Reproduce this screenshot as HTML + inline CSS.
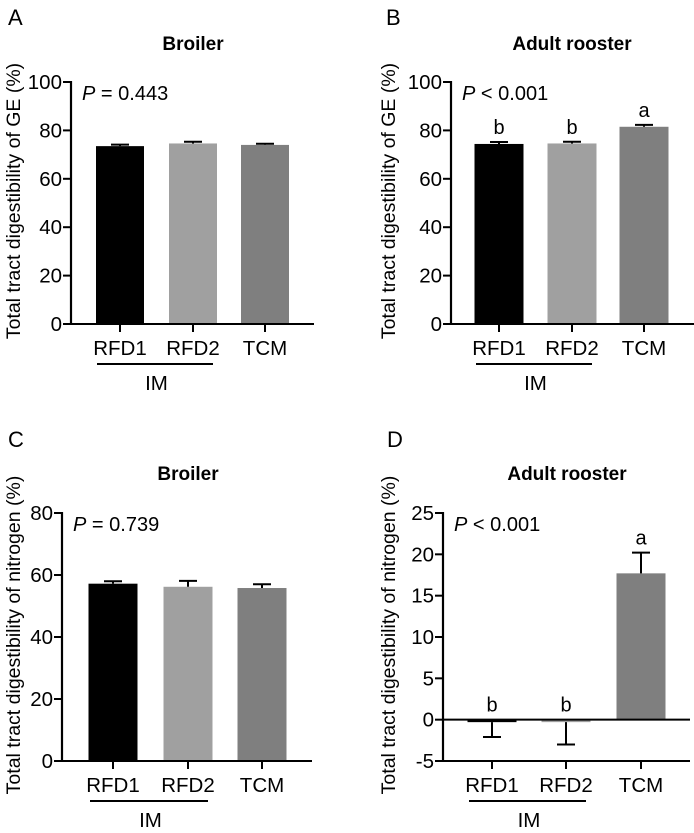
<!DOCTYPE html>
<html><head><meta charset="utf-8"><style>
body{margin:0;background:#fff;}
svg text{font-family:"Liberation Sans",Arial,sans-serif;fill:#000;}
</style></head><body>
<svg id="fig" width="694" height="828" viewBox="0 0 694 828"></svg>
<script>
const categories=["RFD1","RFD2","TCM"];
const colors=["#000000","#a0a0a0","#7f7f7f"];
const valuesA=[73.5,74.6,74.0];
const errorsA=[0.6,0.7,0.5];
const valuesB=[74.4,74.6,81.5];
const errorsB=[0.8,0.7,0.8];
const lettersB=["b","b","a"];
const valuesC=[57.2,56.2,55.8];
const errorsC=[0.8,1.9,1.2];
const valuesD=[-0.3,-0.3,17.7];
const errorsD=[1.8,2.7,2.5];
const lettersD=["b","b","a"];
const ticksGE=[0,20,40,60,80,100];
const ticksNc=[0,20,40,60,80];
const ticksNd=[-5,0,5,10,15,20,25];

const NS="http://www.w3.org/2000/svg";
const svg=document.getElementById('fig');
function mk(tag,attrs,parent,text){const e=document.createElementNS(NS,tag);for(const k in attrs)e.setAttribute(k,attrs[k]);if(text!==undefined)e.textContent=text;(parent||svg).appendChild(e);return e;}

function panel(cfg){
  const g=mk('g',{});
  
  
  const ymin=cfg.ticks[0],ymax=cfg.ticks[cfg.ticks.length-1];
  const y=v=>cfg.yb+(v-ymin)/(ymax-ymin)*(cfg.yt-cfg.yb);
  const pl=mk('text',{x:cfg.lx,y:cfg.ly,'font-size':22},g,cfg.letter);
  
  const t=mk('text',{x:cfg.tx,y:cfg.ty,'font-size':19,'font-weight':'bold','text-anchor':'middle'},g,cfg.title);
  
  const yt=mk('text',{transform:`translate(${cfg.ytx},${(cfg.yt+cfg.yb)/2-2}) rotate(-90)`,'font-size':19.5,'text-anchor':'middle'},g,cfg.ytitle);
  
  cfg.values.forEach((v,i)=>{
    const cx=cfg.cx[i],w=cfg.bw;
    const top=Math.min(y(v),y(0)),h=Math.abs(y(v)-y(0));
    const b=mk('rect',{x:cx-w/2,y:top,width:w,height:Math.max(h,1.5),fill:colors[i]},g);
    
    const e=cfg.errors[i];const ye=v>=0?y(v+e):y(v-e);
    const el=mk('path',{d:`M${cx},${y(v)}L${cx},${ye}M${cx-9},${ye}L${cx+9},${ye}`,stroke:'#000','stroke-width':2,fill:'none'},g);
    
    if(cfg.letters){
      const ly=(v>=0?Math.min(y(v+e),y(0)):y(0))-8;
      const lt=mk('text',{x:cx,y:ly,'font-size':20,'text-anchor':'middle'},g,cfg.letters[i]);
      
    }
  });
  const ya=mk('line',{x1:cfg.ax,y1:cfg.yt-1,x2:cfg.ax,y2:cfg.yb+1,stroke:'#000','stroke-width':2.2},g);
  
  cfg.ticks.forEach(tv=>{
    mk('line',{x1:cfg.ax-8,y1:y(tv),x2:cfg.ax,y2:y(tv),stroke:'#000','stroke-width':2},g);
    const tl=mk('text',{x:cfg.ax-9,y:y(tv)+7,'font-size':20.5,'text-anchor':'end'},g,String(tv));
    
  });
  const xa=mk('line',{x1:cfg.ax,y1:y(0),x2:cfg.xe,y2:y(0),stroke:'#000','stroke-width':2},g);
  
  if(ymin<0){mk('line',{x1:cfg.ax,y1:cfg.yb,x2:cfg.xe,y2:cfg.yb,stroke:'#000','stroke-width':2},g);}
  categories.forEach((c,i)=>{
    mk('line',{x1:cfg.cx[i],y1:cfg.yb,x2:cfg.cx[i],y2:cfg.yb+8,stroke:'#000','stroke-width':2},g);
    const xl=mk('text',{x:cfg.cx[i],y:cfg.yb+31,'font-size':20.5,'text-anchor':'middle'},g,c);
    
  });
  const im=mk('line',{x1:cfg.cx[0]-23,y1:cfg.yb+40,x2:cfg.cx[1]+20,y2:cfg.yb+40,stroke:'#000','stroke-width':2},g);
  
  const imt=mk('text',{x:(cfg.cx[0]+cfg.cx[1])/2,y:cfg.yb+66,'font-size':20.5,'text-anchor':'middle'},g,'IM');
  
  const p=mk('text',{x:cfg.ax+11,y:cfg.yt+18,'font-size':20},g);
  
  mk('tspan',{'font-style':'italic'},p,'P');
  mk('tspan',{},p,' '+cfg.p);
}

panel({letter:'A',lx:8,ly:25,title:'Broiler',tx:193,ty:50,ytx:20,ytitle:'Total tract digestibility of GE (%)',
  ax:71,yt:82,yb:324,xe:314,cx:[120,193,265],bw:48,ticks:ticksGE,values:valuesA,errors:errorsA,p:'= 0.443'});
panel({letter:'B',lx:386,ly:25,title:'Adult rooster',tx:572,ty:50,ytx:395,ytitle:'Total tract digestibility of GE (%)',
  ax:451,yt:82,yb:324,xe:694,cx:[499,572,644],bw:49,ticks:ticksGE,values:valuesB,errors:errorsB,letters:lettersB,p:'< 0.001'});
panel({letter:'C',lx:8,ly:447,title:'Broiler',tx:188,ty:480,ytx:20,ytitle:'Total tract digestibility of nitrogen (%)',
  ax:62,yt:513,yb:761,xe:312,cx:[113,188,262],bw:49,ticks:ticksNc,values:valuesC,errors:errorsC,p:'= 0.739'});
panel({letter:'D',lx:387,ly:447,title:'Adult rooster',tx:567,ty:480,ytx:395,ytitle:'Total tract digestibility of nitrogen (%)',
  ax:443,yt:513,yb:761,xe:690,cx:[492,566,641],bw:49,ticks:ticksNd,values:valuesD,errors:errorsD,letters:lettersD,p:'< 0.001'});
</script>
</body></html>
